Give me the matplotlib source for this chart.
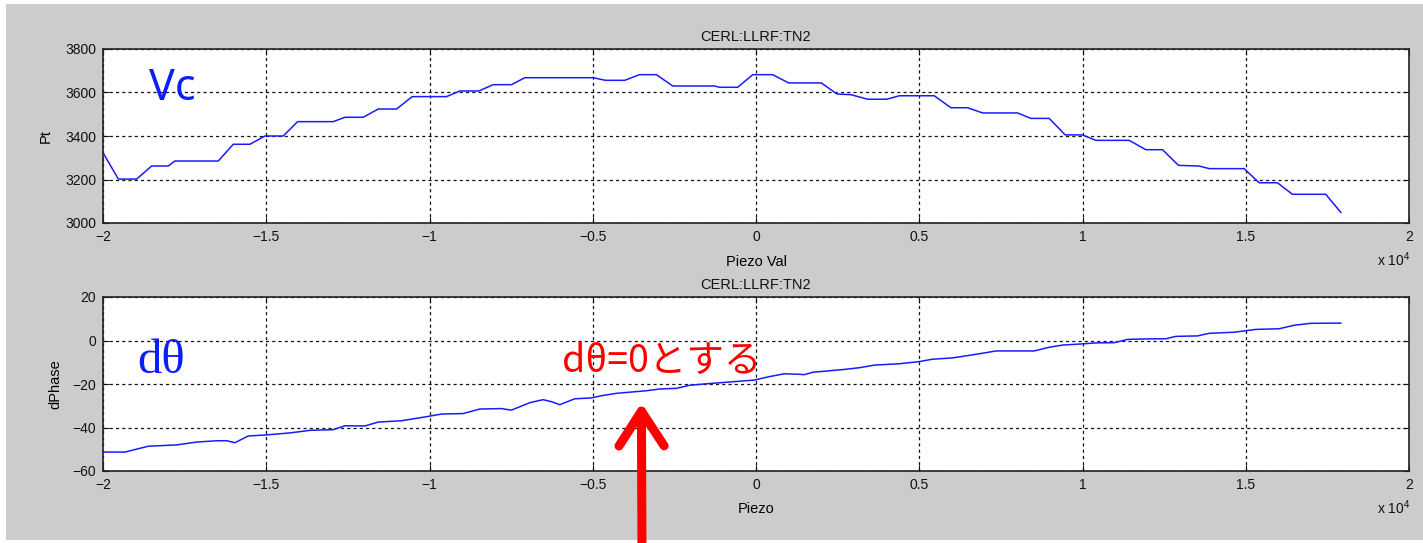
import numpy as np
import matplotlib
matplotlib.use("Agg")
import matplotlib.pyplot as plt
from matplotlib.patches import Rectangle
from matplotlib.ticker import FuncFormatter, MultipleLocator

# piezo sweep, Pt (cavity voltage) readback
pt_piezo = [-20000, -19530, -18970, -18510, -18000, -17800, -16470, -16010, -15500, -15040,
            -14480, -14040, -12950, -12590, -12030, -11570, -11010, -10530, -9480, -9070,
            -8490, -8050, -7490, -7080, -4990, -4610, -4020, -3570, -3050, -2550,
            -1270, -1120, -560, -100, 510, 1000, 2000, 2480, 2910, 3420,
            4000, 4390, 5460, 5970, 6480, 6940, 8010, 8420, 8980, 9470,
            10000, 10410, 11430, 11940, 12450, 12940, 13570, 13880, 14950, 15410,
            15970, 16430, 17450, 17910]
pt_val = [3323, 3202, 3202, 3262, 3262, 3285, 3285, 3362, 3362, 3400,
          3400, 3466, 3466, 3486, 3486, 3524, 3524, 3581, 3581, 3607,
          3607, 3636, 3636, 3668, 3668, 3656, 3656, 3682, 3682, 3630,
          3630, 3624, 3624, 3682, 3682, 3644, 3644, 3593, 3590, 3569,
          3569, 3585, 3585, 3530, 3530, 3506, 3506, 3481, 3481, 3405,
          3405, 3380, 3380, 3337, 3337, 3265, 3262, 3250, 3250, 3185,
          3185, 3132, 3132, 3049]

# piezo sweep, phase difference
ph_piezo = [-20000, -19330, -18610, -17740, -17130, -16520, -16200, -15960, -15550, -14990,
            -14280, -13660, -12950, -12590, -11980, -11570, -10860, -10040, -9630, -8970,
            -8460, -7800, -7490, -6930, -6520, -6270, -6010, -5550, -5040, -4740,
            -4280, -3820, -3360, -2950, -2440, -2040, -1520, -910, -400, -50,
            410, 870, 1280, 1480, 1740, 2710, 3170, 3630, 4390, 5000,
            5410, 6020, 6590, 7040, 7350, 8520, 8980, 9390, 9950, 10410,
            10970, 11380, 11840, 12550, 12860, 13520, 13880, 14640, 15310, 16020,
            16480, 16990, 17910]
ph_val = [-51.3, -51.3, -48.6, -48.0, -46.7, -46.1, -46.1, -47.0, -43.9, -43.4,
          -42.5, -41.3, -41.0, -39.2, -39.3, -37.5, -36.9, -34.9, -33.8, -33.6,
          -31.5, -31.3, -32.0, -28.6, -27.2, -28.1, -29.5, -26.8, -26.4, -25.4,
          -24.3, -23.7, -23.1, -22.3, -22.0, -20.6, -19.9, -19.2, -18.6, -18.2,
          -16.6, -15.3, -15.5, -15.7, -14.6, -13.3, -12.5, -11.3, -10.7, -9.7,
          -8.6, -8.0, -6.7, -5.6, -4.8, -4.8, -3.1, -2.1, -1.6, -1.1,
          -1.0, 0.5, 0.7, 0.8, 1.9, 2.1, 3.3, 3.8, 5.1, 5.4,
          7.0, 7.9, 8.0]

pv_name = "CERL:LLRF:TN2"
zero_piezo, zero_phase = -3510, -28.7

plt.rcParams["font.family"] = ["Liberation Sans", "DejaVu Sans"]
plt.rcParams["mathtext.default"] = "regular"

W, H = 1423, 543
fig = plt.figure(figsize=(W / 100, H / 100), dpi=100, facecolor="white")
fig.patches.append(Rectangle((6 / W, 3 / H), 1417 / W, 536 / H, transform=fig.transFigure,
                             facecolor="#cccccc", edgecolor="none", zorder=-10))

ax1 = fig.add_axes([103 / W, 1 - 223 / H, 1306 / W, 174 / H])
ax2 = fig.add_axes([103 / W, 1 - 471 / H, 1306 / W, 174 / H])


def fmt_x(v, pos):
    s = "%g" % (v / 1e4)
    return s.replace("-", "\u2212")


def fmt_y(v, pos):
    return ("%g" % v).replace("-", "\u2212")


for ax in (ax1, ax2):
    ax.set_facecolor("white")
    ax.set_xlim(-20000, 20000)
    ax.xaxis.set_major_locator(MultipleLocator(5000))
    ax.xaxis.set_major_formatter(FuncFormatter(fmt_x))
    ax.yaxis.set_major_formatter(FuncFormatter(fmt_y))
    ax.grid(True, color="#111111", linestyle=(0, (2.5, 2.5)), linewidth=0.9)
    ax.tick_params(direction="in", length=4, width=0.8, top=True, right=True,
                   labelsize=10, pad=5, colors="#111111")
    for sp in ax.spines.values():
        sp.set_color("#222222")
        sp.set_linewidth(1.2)
    ax.set_title(pv_name, fontsize=10.5, pad=6, color="#111111")

ax1.plot(pt_piezo, pt_val, color="#1a1aff", lw=1.1)
ax1.set_ylim(3000, 3800)
ax1.yaxis.set_major_locator(MultipleLocator(200))
ax1.set_xlabel("Piezo Val", fontsize=10.5, labelpad=8)
ax1.set_ylabel("Pt", fontsize=10.5, labelpad=9)
ax1.text(-18600, 3566, "Vc", fontsize=31, color="#0a1eff", family=["Noto Sans", "DejaVu Sans"])

ax2.plot(ph_piezo, ph_val, color="#1a1aff", lw=1.1)
ax2.set_ylim(-60, 20)
ax2.yaxis.set_major_locator(MultipleLocator(20))
ax2.set_xlabel("Piezo", fontsize=10.5, labelpad=7)
ax2.set_ylabel("dPhase", fontsize=10.5, labelpad=7)
ax2.text(-18950, -15.1, "d\u03b8", fontsize=35, color="#0a1eff",
         family=["Liberation Serif", "DejaVu Serif"])
ax2.text(-5950, -14.3, "d\u03b8=0\u3068\u3059\u308b", fontsize=27, color="#ff0000",
         family=["Noto Sans CJK JP", "DejaVu Sans"])

# arrow pointing at the dθ=0 setting
ax2.annotate("", xy=(zero_piezo, zero_phase), xycoords="data",
             xytext=(642, -20), textcoords="figure pixels", annotation_clip=False,
             arrowprops=dict(arrowstyle="->,head_length=1.0,head_width=0.65",
                             mutation_scale=25, lw=6.5, color="#ff0000",
                             shrinkA=0, shrinkB=0, capstyle="round", joinstyle="round"))

# exponent labels, MATLAB style
for y_px in (266, 514):
    fig.text(1410 / W, 1 - y_px / H, "x 10$^{4}$", ha="right", va="baseline",
             fontsize=10, color="#111111")

fig.savefig("out.png", dpi=100, facecolor="white")
